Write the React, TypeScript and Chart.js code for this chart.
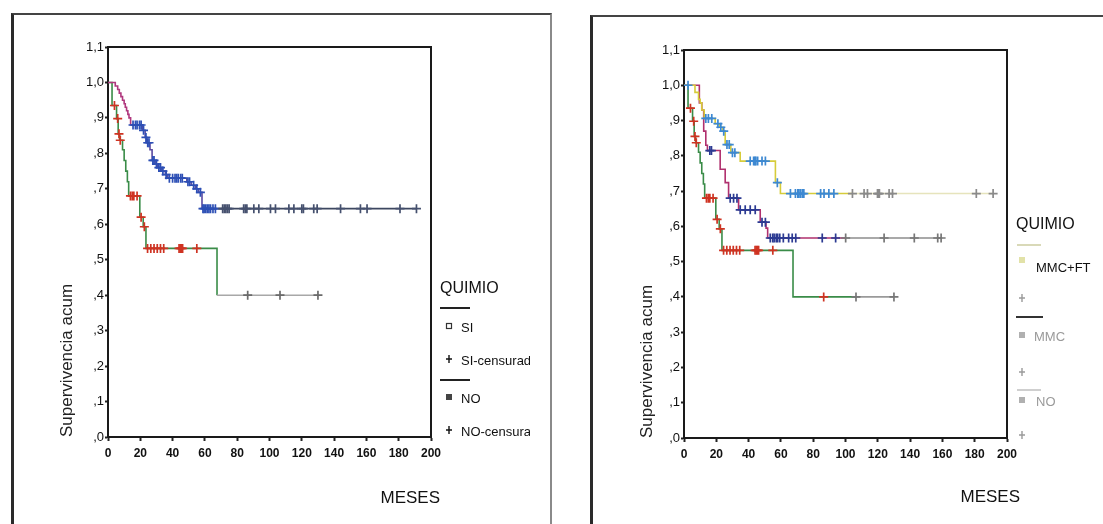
import React, { useEffect, useRef } from "react";
import { Chart, registerables } from "chart.js";

Chart.register(...registerables);

// ---------------- DATA ----------------
// Axis ticks
const xTickStep = 20; // MESES 0..200
const xMax = 200;
const yTickStep = 0.1; // ,0 .. 1,1
const yMax = 1.1;

// Group QUIMIO = SI (left chart)
const siEventMonths = [0, 4.5, 6, 7, 8, 9, 10, 10.7, 11.5, 12.3, 13, 14, 21.2, 23, 24, 26, 27.3, 29.2, 30.8, 33.2, 35.5, 37, 48.8, 51.5, 54, 56, 58.2];
const siEventSurv = [1.0, 0.99, 0.98, 0.97, 0.96, 0.95, 0.94, 0.93, 0.92, 0.91, 0.9, 0.88, 0.865, 0.845, 0.83, 0.81, 0.78, 0.77, 0.76, 0.75, 0.74, 0.73, 0.72, 0.71, 0.7, 0.69, 0.644];
const siCensorMonths = [15.5, 17, 18, 19.5, 20.5, 22, 23.5, 24.6, 25.4, 27.8, 28.5, 30, 31.5, 32.5, 34, 36, 38, 40, 41.5, 42.5, 43.5, 45, 46, 49.5, 50.5, 53, 55, 57.2, 58.8, 59.5, 60.5, 61.5, 62.5, 63.5, 65, 66.5, 71, 72, 73, 74, 75, 84, 85, 86, 90.3, 93.4, 100.6, 103.7, 112, 115.1, 120, 121, 127.4, 129.5, 144, 156.3, 160.4, 180.8, 191];

// Group NO (both charts)
const noEventMonths = [0, 2.5, 5.3, 6.3, 7.2, 9, 10, 11, 12, 12.8, 19.7, 21.8, 23.5, 67.5];
const noEventSurv = [1.0, 0.935, 0.898, 0.855, 0.837, 0.81, 0.78, 0.75, 0.72, 0.68, 0.62, 0.593, 0.532, 0.4];
const noCensorMonths = [4, 6, 6.8, 7.6, 13.9, 15, 16, 18, 20.5, 22.5, 24.5, 26.5, 28.5, 30.5, 32.5, 34.5, 44, 44.8, 45.5, 46.2, 55, 86.5, 106.5, 130];

// Group MMC+FT (right chart)
const ftEventMonths = [0, 6.8, 9, 10, 11, 12.5, 19.3, 22, 24, 25.5, 29, 34.8, 56.6, 59.7];
const ftEventSurv = [1.0, 0.98, 0.96, 0.95, 0.93, 0.906, 0.891, 0.881, 0.87, 0.832, 0.809, 0.785, 0.724, 0.693];
const ftCensorMonths = [2.5, 13.5, 15.1, 17.2, 21, 22.8, 24.6, 26.6, 28, 30, 31.5, 41, 43.1, 43.8, 44.5, 45.6, 48.3, 50.4, 57.8, 65.9, 69, 70.5, 71.1, 72, 73.2, 74.2, 84.6, 86.7, 89.7, 92.8, 104.3, 111.5, 113.6, 119.8, 120.4, 121, 127, 129.1, 181, 191.4];

// Group MMC (right chart)
const mmcEventMonths = [0, 9.5, 11, 12.2, 13.5, 14.5, 22.4, 25.5, 27.6, 33.8, 47.2, 50.8, 51.8];
const mmcEventSurv = [1.0, 0.95, 0.93, 0.87, 0.83, 0.815, 0.762, 0.724, 0.68, 0.647, 0.612, 0.595, 0.567];
const mmcCensorMonths = [16, 17, 28.6, 30.7, 32.8, 34.8, 37.9, 41, 44.1, 48.3, 50.4, 53.4, 54.9, 55.8, 57.1, 58, 59.3, 61.5, 64.8, 67, 69.2, 85.6, 93.9, 100.1, 123.9, 142.6, 157.1, 159.2];

// ---------------- helpers ----------------
const FONT = '"Liberation Sans", Arial, Helvetica, sans-serif';

function levelAt(evT: number[], evS: number[], t: number) {
  let s = evS[0];
  for (let i = 0; i < evT.length; i++) if (evT[i] <= t) s = evS[i];
  return s;
}
function kmLine(evT: number[], evS: number[], cT: number[]) {
  const pts = evT
    .map((t, i) => ({ x: t, y: evS[i], c: 0 }))
    .concat(cT.map((t) => ({ x: t, y: levelAt(evT, evS, t), c: 1 })));
  pts.sort((a, b) => a.x - b.x || a.c - b.c);
  return pts.map((p) => ({ x: p.x, y: p.y }));
}
function censorPts(evT: number[], evS: number[], cT: number[]) {
  return cT.map((t) => ({ x: t, y: levelAt(evT, evS, t) }));
}

type Seg = { until: number; color: string }[];
function segColor(stops: Seg) {
  return (ctx: any) => {
    const x = ctx.p0.parsed.x;
    for (const s of stops) if (x < s.until) return s.color;
    return stops[stops.length - 1].color;
  };
}
function ptColor(stops: Seg) {
  return (ctx: any) => {
    const x = ctx.raw ? ctx.raw.x : 0;
    for (const s of stops) if (x < s.until) return s.color;
    return stops[stops.length - 1].color;
  };
}

function lineDs(data: any[], stops: Seg) {
  return {
    data,
    stepped: "before" as const,
    borderWidth: 1.6,
    borderColor: stops[0].color,
    pointRadius: 0,
    fill: false,
    segment: { borderColor: segColor(stops) },
  };
}
function censorDs(data: any[], stops: Seg) {
  return {
    data,
    showLine: false,
    pointStyle: "cross",
    pointRadius: 4.5,
    pointHoverRadius: 4.5,
    pointBorderWidth: 1.7,
    pointBorderColor: ptColor(stops),
    pointBackgroundColor: ptColor(stops),
  };
}

// ---------------- decoration plugin (frame, x title, legend) ----------------
const kmDecor = {
  id: "kmDecor",
  afterDraw(chart: any, _args: any, opts: any) {
    const { ctx, chartArea: a } = chart;
    ctx.save();
    ctx.strokeStyle = "#1a1a1a";
    ctx.lineWidth = 2;
    ctx.beginPath();
    ctx.moveTo(a.left, a.top);
    ctx.lineTo(a.right, a.top);
    ctx.lineTo(a.right, a.bottom);
    ctx.stroke();

    ctx.fillStyle = "#111";
    ctx.font = `17px ${FONT}`;
    ctx.textAlign = "right";
    ctx.textBaseline = "middle";
    ctx.fillText(opts.xTitle, a.right + opts.xTitleDx, a.bottom + opts.xTitleDy);

    ctx.save();
    ctx.beginPath();
    ctx.rect(a.right, 0, opts.clipW, chart.height);
    ctx.clip();
    for (const it of opts.legend) {
      const x = a.right + it.dx;
      const y = a.top + it.dy;
      ctx.fillStyle = it.color;
      ctx.strokeStyle = it.color;
      if (it.kind === "title") {
        ctx.font = `16px ${FONT}`;
        ctx.textAlign = "left";
        ctx.fillText(it.text, x, y);
      } else if (it.kind === "label") {
        ctx.font = `13px ${FONT}`;
        ctx.textAlign = "left";
        ctx.fillText(it.text, x, y);
      } else if (it.kind === "rule") {
        ctx.lineWidth = 2;
        ctx.beginPath();
        ctx.moveTo(x, y);
        ctx.lineTo(x + it.w, y);
        ctx.stroke();
      } else if (it.kind === "box") {
        ctx.lineWidth = 1.2;
        ctx.strokeRect(x - 2.5, y - 2.5, 5, 5);
      } else if (it.kind === "fbox") {
        ctx.fillRect(x - 3, y - 3, 6, 6);
      } else if (it.kind === "plus") {
        ctx.lineWidth = 1.4;
        ctx.beginPath();
        ctx.moveTo(x - 3, y);
        ctx.lineTo(x + 3, y);
        ctx.moveTo(x, y - 4);
        ctx.lineTo(x, y + 4);
        ctx.stroke();
      }
    }
    ctx.restore();
    ctx.restore();
  },
};

const leftLegend = [
  { kind: "title", dx: 9, dy: 242, text: "QUIMIO", color: "#111" },
  { kind: "rule", dx: 9, dy: 261, w: 30, color: "#222" },
  { kind: "box", dx: 18, dy: 279, color: "#333" },
  { kind: "label", dx: 30, dy: 281, text: "SI", color: "#111" },
  { kind: "plus", dx: 18, dy: 312, color: "#111" },
  { kind: "label", dx: 30, dy: 314, text: "SI-censurado", color: "#111" },
  { kind: "rule", dx: 9, dy: 333, w: 30, color: "#222" },
  { kind: "fbox", dx: 18, dy: 350, color: "#444" },
  { kind: "label", dx: 30, dy: 352, text: "NO", color: "#111" },
  { kind: "plus", dx: 18, dy: 383, color: "#111" },
  { kind: "label", dx: 30, dy: 385, text: "NO-censurado", color: "#111" },
];

const rightLegend = [
  { kind: "title", dx: 9, dy: 175, text: "QUIMIO", color: "#111" },
  { kind: "rule", dx: 10, dy: 195, w: 24, color: "#d9d9b8" },
  { kind: "fbox", dx: 15, dy: 210, color: "#e2e2a8" },
  { kind: "label", dx: 29, dy: 218, text: "MMC+FT", color: "#111" },
  { kind: "plus", dx: 15, dy: 248, color: "#9a9a9a" },
  { kind: "rule", dx: 9, dy: 267, w: 27, color: "#333" },
  { kind: "fbox", dx: 15, dy: 285, color: "#b0b0b0" },
  { kind: "label", dx: 27, dy: 287, text: "MMC", color: "#9a9a9a" },
  { kind: "plus", dx: 15, dy: 322, color: "#9a9a9a" },
  { kind: "rule", dx: 10, dy: 340, w: 24, color: "#cfcfcf" },
  { kind: "fbox", dx: 15, dy: 350, color: "#b0b0b0" },
  { kind: "label", dx: 29, dy: 352, text: "NO", color: "#9a9a9a" },
  { kind: "plus", dx: 15, dy: 385, color: "#9a9a9a" },
];

function yLabel(v: any) {
  const s = Number(v).toFixed(1).replace(".", ",");
  return s.startsWith("0") ? s.slice(1) : s;
}

function makeConfig(datasets: any[], lay: any) {
  return {
    type: "line" as const,
    data: { datasets },
    options: {
      responsive: false,
      animation: false as const,
      devicePixelRatio: 1,
      events: [],
      layout: { padding: { left: 0, top: lay.top, right: lay.right, bottom: 0 } },
      plugins: {
        legend: { display: false },
        tooltip: { enabled: false },
        kmDecor: {
          xTitle: "MESES",
          xTitleDx: lay.xTitleDx,
          xTitleDy: lay.xTitleDy,
          legend: lay.legend,
          clipW: lay.clipW,
        },
      },
      scales: {
        x: {
          type: "linear" as const,
          min: 0,
          max: xMax,
          ticks: { stepSize: xTickStep, color: "#111", font: { family: FONT, size: 12, weight: "bold" as const }, padding: 5, maxRotation: 0, autoSkip: false },
          grid: { display: true, drawOnChartArea: false, drawTicks: true, tickLength: 4, tickWidth: 2, tickColor: "#222" },
          border: { display: true, color: "#1a1a1a", width: 2 },
          afterFit: (s: any) => {
            s.height = lay.xHeight;
          },
        },
        y: {
          type: "linear" as const,
          min: 0,
          max: yMax,
          ticks: { stepSize: yTickStep, color: "#111", font: { family: FONT, size: 13 }, padding: 1, callback: yLabel },
          grid: { display: true, drawOnChartArea: false, drawTicks: true, tickLength: 3, tickWidth: 2, tickColor: "#222" },
          border: { display: true, color: "#1a1a1a", width: 2 },
          title: {
            display: true,
            text: "Supervivencia acum",
            align: "start" as const,
            color: "#222",
            font: { family: FONT, size: 17 },
            padding: { top: lay.yTitlePad, bottom: 0 },
          },
          afterFit: (s: any) => {
            s.width = lay.yWidth;
          },
        },
      },
    },
    plugins: [kmDecor],
  };
}

const LEFT_FADE = 67;
const RIGHT_FADE = 95;

function KMChart({ which, width, height }: { which: "left" | "right"; width: number; height: number }) {
  const ref = useRef<HTMLCanvasElement | null>(null);
  useEffect(() => {
    if (!ref.current) return;
    let cfg: any;
    const noLine = kmLine(noEventMonths, noEventSurv, noCensorMonths);
    const noCens = censorPts(noEventMonths, noEventSurv, noCensorMonths);
    if (which === "left") {
      const siLine = kmLine(siEventMonths, siEventSurv, siCensorMonths);
      const siCens = censorPts(siEventMonths, siEventSurv, siCensorMonths);
      cfg = makeConfig(
        [
          censorDs(siCens, [{ until: LEFT_FADE, color: "#2d4fb5" }, { until: 1e9, color: "#45506e" }]),
          censorDs(noCens, [{ until: LEFT_FADE, color: "#cf3322" }, { until: 1e9, color: "#6a6a6a" }]),
          lineDs(siLine, [{ until: 15, color: "#b0387e" }, { until: 58, color: "#5a4aa0" }, { until: 1e9, color: "#3d4760" }]),
          lineDs(noLine, [{ until: LEFT_FADE, color: "#3a8c48" }, { until: 1e9, color: "#a8a8a8" }]),
        ],
        { top: 31, right: 103, xHeight: 87, yWidth: 94, yTitlePad: 42.8, xTitleDx: 9, xTitleDy: 61, legend: leftLegend, clipW: 99 }
      );
    } else {
      const ftLine = kmLine(ftEventMonths, ftEventSurv, ftCensorMonths);
      const ftCens = censorPts(ftEventMonths, ftEventSurv, ftCensorMonths);
      const mmLine = kmLine(mmcEventMonths, mmcEventSurv, mmcCensorMonths);
      const mmCens = censorPts(mmcEventMonths, mmcEventSurv, mmcCensorMonths);
      cfg = makeConfig(
        [
          censorDs(ftCens, [{ until: RIGHT_FADE, color: "#3c88d2" }, { until: 1e9, color: "#8a8a8a" }]),
          censorDs(mmCens, [{ until: RIGHT_FADE, color: "#2b3a92" }, { until: 1e9, color: "#777777" }]),
          censorDs(noCens, [{ until: RIGHT_FADE, color: "#cf3322" }, { until: 1e9, color: "#777777" }]),
          lineDs(ftLine, [{ until: RIGHT_FADE, color: "#d6cc3a" }, { until: 1e9, color: "#e6e4bc" }]),
          lineDs(mmLine, [{ until: RIGHT_FADE, color: "#b0306e" }, { until: 1e9, color: "#8c8c8c" }]),
          lineDs(noLine, [{ until: RIGHT_FADE, color: "#3a8c48" }, { until: 1e9, color: "#9a9a9a" }]),
        ],
        { top: 32, right: 94, xHeight: 86, yWidth: 91, yTitlePad: 43.8, xTitleDx: 13, xTitleDy: 59, legend: rightLegend, clipW: 95 }
      );
    }
    const chart = new Chart(ref.current, cfg);
    return () => chart.destroy();
  }, [which]);
  return <canvas ref={ref} width={width} height={height} style={{ width, height, display: "block" }} />;
}

export default function App() {
  return (
    <div style={{ position: "fixed", left: 0, top: 0, width: 1103, height: 524, background: "#fff", overflow: "hidden" }}>
      <div
        style={{
          position: "absolute",
          left: 11,
          top: 13,
          width: 541,
          height: 530,
          boxSizing: "border-box",
          borderLeft: "3px solid #2a2a2a",
          borderTop: "2px solid #444",
          borderRight: "2px solid #8a8a8a",
        }}
      />
      <div
        style={{
          position: "absolute",
          left: 590,
          top: 15,
          width: 530,
          height: 530,
          boxSizing: "border-box",
          borderLeft: "3px solid #2a2a2a",
          borderTop: "2px solid #444",
        }}
      />
      <div style={{ position: "absolute", left: 14, top: 16 }}>
        <KMChart which="left" width={520} height={508} />
      </div>
      <div style={{ position: "absolute", left: 593, top: 18 }}>
        <KMChart which="right" width={508} height={506} />
      </div>
    </div>
  );
}
